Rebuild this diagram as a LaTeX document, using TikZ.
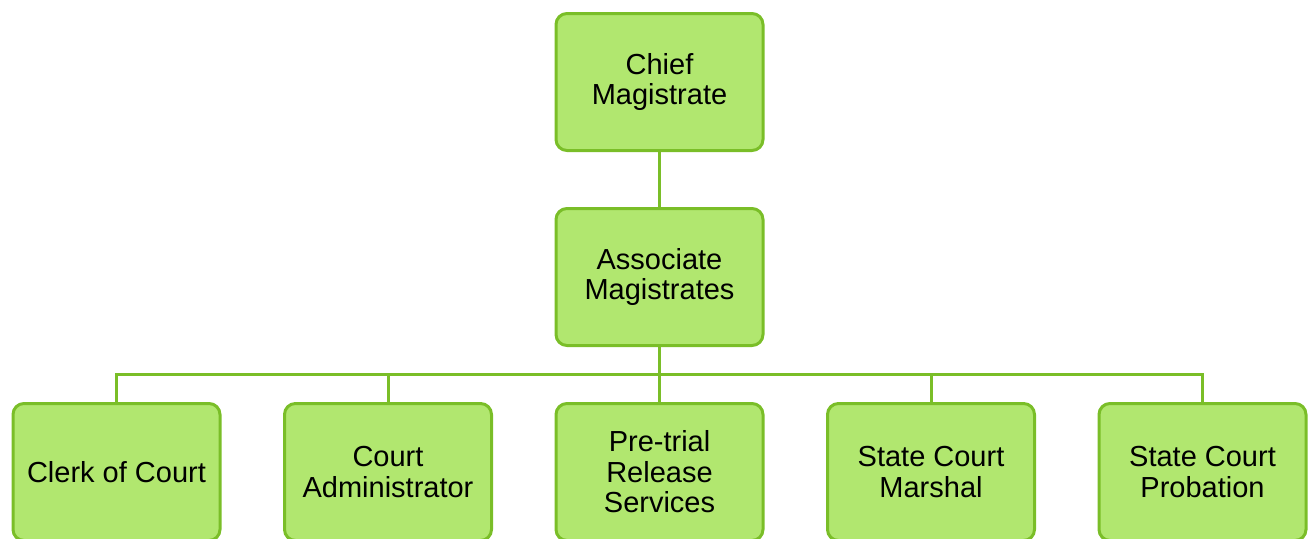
\documentclass[tikz,border=0pt]{standalone}
\usepackage{fontspec}
\setmainfont{Liberation Sans}
\usetikzlibrary{positioning}

\definecolor{verdeborde}{RGB}{122,190,40}
\definecolor{verdefondo}{RGB}{177,231,111}

\begin{document}
\begin{tikzpicture}[
    x=1pt, y=1pt,
    font=\fontsize{29}{30.5}\selectfont,
    node distance=55pt and 61.5pt,
    puesto/.style={draw=verdeborde, fill=verdefondo, line width=3pt, rounded corners=11pt,
                   minimum width=207pt, minimum height=137pt, align=center, inner sep=2pt},
    enlace/.style={draw=verdeborde, line width=3pt}
]
\useasboundingbox (0,0) rectangle (1308,-538);

\node[puesto] (jefe) at (659.5,-82)       {Chief\\Magistrate};
\node[puesto, below=of jefe]      (asociados) {Associate\\Magistrates};
\node[puesto, below=of asociados] (pretrial)  {Pre-trial\\Release\\Services};
\node[puesto, left=of pretrial]   (admin)     {Court\\Administrator};
\node[puesto, left=of admin]      (clerk)     {Clerk of Court};
\node[puesto, right=of pretrial]  (marshal)   {State Court\\Marshal};
\node[puesto, right=of marshal]   (probation) {State Court\\Probation};

\coordinate[below=27.5pt of asociados] (bus);

\draw[enlace] (jefe) -- (asociados);
\draw[enlace] (asociados) -- (bus);
\foreach \n in {clerk,admin,pretrial,marshal,probation}
    \draw[enlace] (bus) -| (\n.north);

\end{tikzpicture}
\end{document}
